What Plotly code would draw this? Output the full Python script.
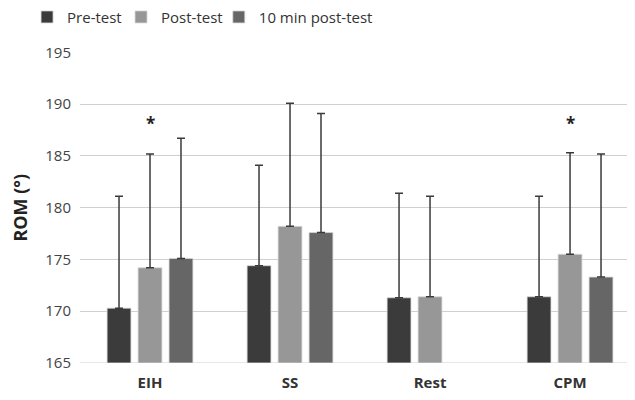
import plotly.graph_objects as go

categories = ["EIH", "SS", "Rest", "CPM"]
pre_test = [170.3, 174.4, 171.3, 171.4]
pre_err = [10.8, 9.7, 10.1, 9.7]
post_test = [174.2, 178.2, 171.4, 175.5]
post_err = [11.0, 11.9, 9.7, 9.8]
min10_test = [175.1, 177.6, None, 173.3]
min10_err = [11.6, 11.5, 0, 11.9]
sig_cats = ["EIH", "CPM"]
sig_y = [188.1, 188.1]

series = [
    ("Pre-test", pre_test, pre_err, "#3b3b3b", "legend"),
    ("Post-test", post_test, post_err, "#979797", "legend2"),
    ("10 min post-test", min10_test, min10_err, "#666666", "legend3"),
]

fig = go.Figure()
for name, vals, errs, col, lg in series:
    fig.add_trace(go.Bar(
        name=name, x=categories, y=[v - 165 if v is not None else None for v in vals],
        base=165, legend=lg,
        marker=dict(color=col, line=dict(color="#d8d8d8", width=0.8)),
        error_y=dict(type="data", array=errs, arrayminus=[0] * len(errs),
                     symmetric=False, color="#3a3a3a", thickness=1.5, width=4),
    ))

for c, yv in zip(sig_cats, sig_y):
    fig.add_annotation(x=c, y=yv, text="<b>*</b>", showarrow=False,
                       font=dict(size=17, color="#222222"))

def legend_at(xpos):
    return dict(orientation="h", xref="container", yref="container",
                x=xpos, y=0.977, xanchor="left", yanchor="middle",
                font=dict(size=15, color="#333333"), itemwidth=30,
                bgcolor="rgba(0,0,0,0)")

fig.update_layout(
    width=635, height=400,
    margin=dict(l=72, r=8, t=43, b=45),
    paper_bgcolor="white", plot_bgcolor="white",
    barmode="group", bargap=0.336, bargroupgap=0.23,
    font=dict(family="Open Sans, Noto Sans, sans-serif", color="#444444"),
    showlegend=True,
    legend=legend_at(0.030),
    legend2=legend_at(0.178),
    legend3=legend_at(0.332),
    xaxis=dict(range=[-0.5, 3.464], showgrid=False, showline=False,
               tickfont=dict(size=15, color="#333333"),
               ticks="", ticklabelstandoff=9),
    yaxis=dict(range=[165, 195], dtick=5, showgrid=True, gridcolor="#d0d0d0",
               gridwidth=1.2, zeroline=False, showline=False,
               tickfont=dict(size=15, color="#444444"), ticklabelstandoff=8,
               title=dict(text="<b>ROM (°)</b>", font=dict(size=18, color="#222222"),
                          standoff=14)),
)
fig.update_xaxes(tickvals=categories, ticktext=["<b>%s</b>" % c for c in categories])
fig.add_shape(type="line", xref="paper", yref="y", x0=0, x1=1, y0=165, y1=165,
              line=dict(color="#d0d0d0", width=1.2), layer="below")

fig.write_html("out.html")
